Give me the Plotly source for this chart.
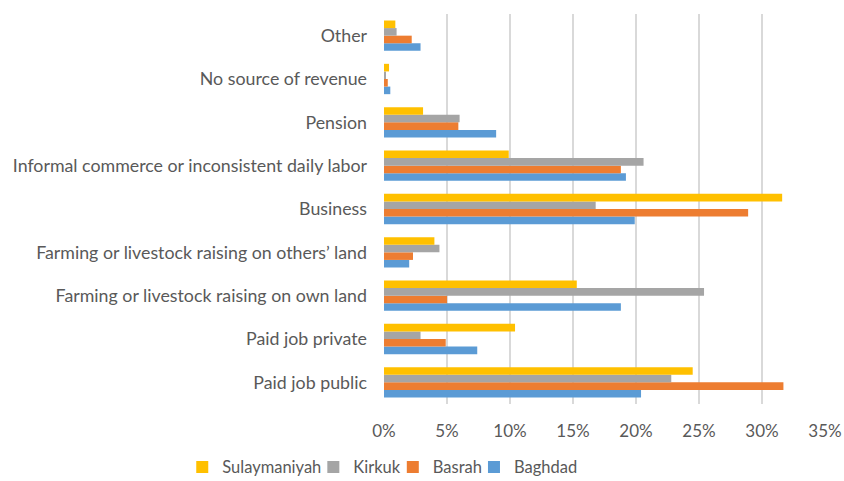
import plotly.graph_objects as go

categories = [
    "Paid job public",
    "Paid job private",
    "Farming or livestock raising on own land",
    "Farming or livestock raising on others\u2019 land",
    "Business",
    "Informal commerce or inconsistent daily labor",
    "Pension",
    "No source of revenue",
    "Other",
]

baghdad = [20.4, 7.4, 18.8, 2.0, 19.9, 19.2, 8.9, 0.5, 2.9]
basrah = [31.7, 4.9, 5.0, 2.3, 28.9, 18.8, 5.9, 0.3, 2.2]
kirkuk = [22.8, 2.9, 25.4, 4.4, 16.8, 20.6, 6.0, 0.1, 1.0]
sulaymaniyah = [24.5, 10.4, 15.3, 4.0, 31.6, 9.9, 3.1, 0.4, 0.9]

x_ticks = [0, 5, 10, 15, 20, 25, 30, 35]
x_tick_labels = ["0%", "5%", "10%", "15%", "20%", "25%", "30%", "35%"]

series = [
    ("Baghdad", baghdad, "#5B9BD5"),
    ("Basrah", basrah, "#ED7D31"),
    ("Kirkuk", kirkuk, "#A5A5A5"),
    ("Sulaymaniyah", sulaymaniyah, "#FFC000"),
]

fig = go.Figure()
for name, vals, color in series:
    fig.add_trace(go.Bar(
        y=categories, x=vals, name=name, orientation="h",
        marker=dict(color=color, line=dict(width=0)),
    ))

font_family = "Lato, 'Noto Sans', sans-serif"
fig.update_layout(
    width=844, height=481,
    margin=dict(l=384, r=19, t=14, b=77, autoexpand=False),
    paper_bgcolor="white", plot_bgcolor="white",
    barmode="group", bargap=0.3, bargroupgap=0,
    font=dict(family=font_family, color="#595959"),
    showlegend=True,
    legend=dict(
        orientation="h", traceorder="reversed",
        xref="paper", yref="paper",
        x=-0.428, xanchor="left", y=-0.162, yanchor="middle",
        font=dict(size=16.5, color="#595959"),
        itemwidth=30, itemsizing="constant", indentation=-13,
    ),
    xaxis=dict(
        range=[0, 35], tickvals=x_ticks, ticktext=x_tick_labels,
        showgrid=True, gridcolor="#D9D9D9", gridwidth=1.5,
        zeroline=False, showline=False, automargin=False,
        tickfont=dict(size=17, color="#595959"),
        ticks="", ticklabelstandoff=15,
    ),
    yaxis=dict(
        type="category", categoryorder="array", categoryarray=categories,
        showgrid=False, zeroline=False, showline=False, automargin=False,
        tickfont=dict(size=17.8, color="#595959"),
        ticks="", ticklabelstandoff=16,
    ),
)

fig.write_html(
    "out.html",
    config={"displayModeBar": False},
    post_script="document.body.style.margin='0';document.body.style.overflow='hidden';",
)
